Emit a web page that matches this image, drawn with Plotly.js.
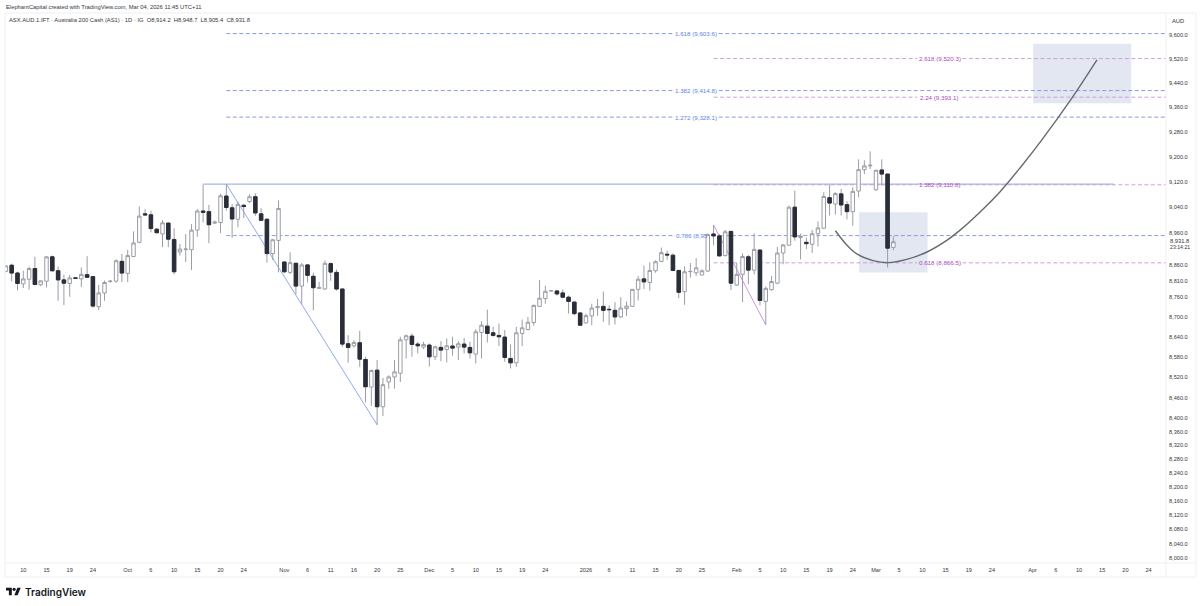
<!DOCTYPE html>
<html><head><meta charset="utf-8">
<script src="https://cdn.plot.ly/plotly-3.0.1.min.js"></script>
<style>html,body{margin:0;padding:0;background:#fff}#c{width:1200px;height:606px}</style>
</head><body><div id="c"></div>
<script>
const opens=[8840,8859,8835,8802,8816,8849,8799,8810,8885,8842,
8814,8803,8820,8817,8830,8824,8732,8774,8809,8810,
8871,8834,8886,8930,9019,9016,8971,8956,8990,8939,
8900,8908,8907,8968,9028,9026,8990,8992,9075,9038,
9002,9046,9058,9073,9019,9002,8895,8936,8869,8837,
8865,8795,8860,8825,8788,8786,8864,8837,8786,8620,
8614,8623,8573,8491,8541,8433,8506,8521,8532,8632,
8643,8619,8610,8616,8581,8609,8603,8613,8610,8619,
8609,8589,8654,8673,8653,8645,8640,8576,8563,8651,
8663,8684,8733,8757,8780,8780,8774,8761,8746,8713,
8683,8704,8729,8733,8724,8721,8701,8726,8733,8785,
8817,8806,8842,8871,8893,8890,8843,8778,8839,8836,
8829,8841,8956,8950,8889,8964,8798,8831,8885,8844,
8906,8748,8784,8804,8897,8921,9040,8945,8930,8924,
8957,8974,9070,9050,9082,9048,9026,9091,9159,9171,
9095,9158,9145,8914.2];
const highs=[8859,8864,8839,8842,8855,8885,8812,8887,8889,8855,
8830,8829,8822,8852,8887,8824,8799,8812,8814,8877,
8894,8907,8964,9042,9034,9029,8973,8999,8992,8974,
8925,8956,8987,9034,9111,9047,8998,9082,9113,9050,
9058,9050,9081,9084,9037,9006,8941,9061,8872,8899,
8867,8866,8863,8836,8808,8874,8868,8846,8786,8646,
8631,8659,8581,8543,8571,8518,8526,8571,8641,8648,
8651,8626,8626,8621,8614,8628,8636,8641,8628,8638,
8626,8664,8688,8723,8671,8681,8661,8618,8671,8693,
8701,8738,8814,8796,8783,8783,8784,8766,8748,8716,
8711,8741,8756,8778,8736,8746,8761,8748,8786,8826,
8858,8868,8874,8914,8904,8896,8843,8856,8866,8881,
8846,8958,8984,8956,8969,8966,8866,8896,8891,8958,
8908,8794,8826,8916,8925,9045,9092,8957,8944,8969,
8995,9087,9111,9087,9098,9059,9103,9192,9189,9218,
9159,9192,9145,8948.7];
const lows=[8837,8809,8782,8789,8784,8797,8795,8791,8840,8750,
8737,8762,8817,8792,8820,8729,8722,8750,8805,8805,
8807,8807,8884,8927,9014,8961,8958,8915,8915,8831,
8889,8869,8844,8947,8992,8927,8987,8959,9029,8944,
8977,9006,9053,9013,8997,8867,8875,8837,8835,8832,
8770,8741,8806,8721,8786,8784,8811,8781,8611,8563,
8608,8551,8446,8436,8380,8406,8486,8486,8506,8576,
8581,8591,8604,8552,8571,8568,8564,8584,8571,8591,
8576,8561,8576,8624,8641,8613,8566,8546,8551,8613,
8660,8674,8731,8741,8778,8766,8758,8711,8706,8674,
8681,8676,8704,8686,8676,8678,8698,8704,8731,8751,
8786,8781,8836,8868,8876,8841,8758,8738,8821,8826,
8828,8839,8921,8886,8886,8783,8796,8746,8801,8831,
8736,8677,8781,8801,8862,8920,8935,8877,8909,8897,
8917,8972,9014,9017,9014,9002,8982,9071,9145,9161,
9092,9108,8852,8905.4];
const closes=[8857,8835,8803,8817,8849,8800,8811,8885,8842,8814,
8804,8820,8819,8831,8822,8734,8774,8806,8810,8873,
8835,8889,8928,9012,9016,8973,8960,8991,8940,8839,
8909,8909,8968,9028,9024,8985,8993,9076,9039,9003,
9049,9042,9073,9022,8999,8895,8938,9036,8839,8867,
8795,8860,8828,8790,8790,8865,8838,8786,8619,8609,
8624,8574,8492,8540,8433,8498,8521,8536,8632,8644,
8618,8614,8618,8581,8611,8601,8614,8607,8620,8610,
8593,8656,8676,8651,8645,8641,8579,8563,8653,8668,
8685,8736,8758,8779,8781,8771,8761,8748,8711,8676,
8705,8728,8732,8721,8723,8701,8728,8734,8785,8816,
8808,8843,8870,8898,8891,8843,8776,8839,8840,8851,
8842,8954,8950,8888,8963,8804,8831,8886,8844,8908,
8751,8788,8809,8897,8922,9040,8947,8949,8926,8957,
8975,9074,9053,9083,9047,9026,9090,9159,9171,9173,
9157,9145,8912,8931.8];

const xTickBars=[3,7,11,15,21,25,29,33,37,41,48,52,56,60,64,68,73,77,81,85,89,93,100,104,108,112,116,120,126,130,134,138,142,146,150,154,158,162,166,170,177,181,185,189,193,197];
const xTickLabels=['10','15','19','24','Oct','6','10','15','20','24','Nov','6','11','16','20','25','Dec','5','10','15','19','24','2026','6','11','15','20','25','Feb','5','10','15','19','24','Mar','5','10','15','19','24','Apr','6','10','15','20','24'];
const yTicks=[9600,9520,9440,9360,9280,9200,9120,9040,8960,8860,8810,8760,8700,8640,8580,8520,8460,8400,8360,8320,8280,8240,8200,8160,8120,8080,8040,8000];

const fibBlueLevels=[9603.6,9414.8,9328.1,8951];
const fibBlueLabels=['1.618 (9,603.6)','1.382 (9,414.8)','1.272 (9,328.1)','0.786 (8,95'];
const fibPurpleLevels=[9520.3,9393.1,9110.8,8866.5];
const fibPurpleLabels=['2.618 (9,520.3)','2.24 (9,393.1)','1.382 (9,110.8)','0.618 (8,866.5)'];

const curveBars=[143,145,146.7,149.5,152.1,155.3,158.8,162.2,164.5,168,171.4,174.9,178.5,183.8,188.1];
const curvePrices=[8966,8921,8894,8873.5,8867,8877,8900,8936,8968,9026,9089,9166,9252,9391,9516];

const bars=opens.map((_,i)=>i);
const isDown=opens.map((o,i)=>closes[i]<o);
const GRAY='#9a9da5',DARK='#2a2e39',BLUE='#8a9bdc',PURPLE='#cba2da',BOX='#e2e7f1',FRAME='#eeeff1';

const px=x=>(x-5)/1161, py=y=>(563-y)/550;

const traces=[
 {type:'candlestick',x:bars,open:opens,high:highs,low:lows,close:closes,whiskerwidth:0,hoverinfo:'skip',showlegend:false,
  increasing:{line:{color:GRAY,width:1},fillcolor:'#ffffff'},decreasing:{line:{color:GRAY,width:1},fillcolor:DARK}},
 {type:'candlestick',x:bars,
  open:opens.map((v,i)=>isDown[i]?v:null),close:closes.map((v,i)=>isDown[i]?v:null),
  high:opens.map((v,i)=>isDown[i]?v:null),low:closes.map((v,i)=>isDown[i]?v:null),
  whiskerwidth:0,hoverinfo:'skip',showlegend:false,
  increasing:{line:{color:DARK,width:1},fillcolor:DARK},decreasing:{line:{color:DARK,width:1},fillcolor:DARK}},
 {type:'scatter',mode:'lines',x:curveBars,y:curvePrices,hoverinfo:'skip',showlegend:false,
  line:{color:'#666970',width:1.4,shape:'spline',smoothing:1}}
];

const BLUE_START=38,PURPLE_START=122,END=200,GAP=3.9;
const blueMid=(BLUE_START+END)/2,purpleMid=(PURPLE_START+END)/2;
function dashed(x0,x1,lvl,col){return {type:'line',layer:'below',xref:'x',yref:'y',x0,x1,y0:lvl,y1:lvl,line:{color:col,width:1,dash:'4px,2.5px'}};}
const shapes=[
 {type:'rect',layer:'below',xref:'x',yref:'y',x0:147.1,x1:158.9,y0:8836.5,y1:9024,fillcolor:BOX,line:{width:0}},
 {type:'rect',layer:'below',xref:'x',yref:'y',x0:177.1,x1:194,y0:9373,y1:9570,fillcolor:BOX,line:{width:0}},
 {type:'line',layer:'below',xref:'x',yref:'y',x0:34,x1:191,y0:9113,y1:9113,line:{color:'#93a0e4',width:1}},
 {type:'line',layer:'below',xref:'x',yref:'y',x0:38,x1:64,y0:9113,y1:8380,line:{color:'#8ea9f2',width:1}},
 {type:'line',layer:'below',xref:'x',yref:'y',x0:122,x1:131,y0:8984,y1:8677,line:{color:'#cf93e0',width:1}}
];
fibBlueLevels.forEach(l=>{
 shapes.push(dashed(BLUE_START,blueMid-GAP,l,BLUE));
 shapes.push(dashed(blueMid+GAP,END,l,BLUE));
});
fibPurpleLevels.forEach(l=>{
 shapes.push(dashed(PURPLE_START,purpleMid-GAP,l,PURPLE));
 shapes.push(dashed(purpleMid+GAP,END,l,PURPLE));
});
function frame(x0,y0,x1,y1){return {type:'line',xref:'paper',yref:'paper',x0:px(x0),x1:px(x1),y0:py(y0),y1:py(y1),line:{color:FRAME,width:1}};}
shapes.push(frame(5,13,1196,13),frame(5,13,5,577),frame(5,563,1196,563),frame(5,577,1196,577),frame(1166,13,1166,577),frame(1196,13,1196,577));
// logo
shapes.push({type:'path',xref:'paper',yref:'paper',line:{width:0},fillcolor:'#131722',
 path:`M${px(6)},${py(587.7)} L${px(11.8)},${py(587.7)} L${px(11.8)},${py(595.2)} L${px(8.9)},${py(595.2)} L${px(8.9)},${py(590.6)} L${px(6)},${py(590.6)} Z`});
shapes.push({type:'path',xref:'paper',yref:'paper',line:{width:0},fillcolor:'#131722',
 path:`M${px(17.4)},${py(587.7)} L${px(20.7)},${py(587.7)} L${px(17.6)},${py(595.2)} L${px(14.3)},${py(595.2)} Z`});
shapes.push({type:'circle',xref:'paper',yref:'paper',x0:px(12.5),x1:px(15.7),y0:py(587.7),y1:py(590.9),fillcolor:'#131722',line:{width:0}});

const FONT='"Liberation Sans", Arial, sans-serif';
function txt(x,y,text,opt){return Object.assign({xref:'paper',yref:'paper',x:px(x),y:py(y),text,showarrow:false,xanchor:'left',yanchor:'middle',
  font:{family:FONT,size:5.8,color:'#33363e'}},opt||{});}
const annotations=[
 txt(4,6.7,'ElephantCapital created with TradingView.com, Mar 04, 2026 11:45 UTC+11'),
 txt(7,20,'ASX.AUD.1.IFT · Australia 200 Cash (AS1) · 1D · IG &nbsp;O8,914.2 &nbsp;H8,948.7 &nbsp;L8,905.4 &nbsp;C8,931.8'),
 txt(1170,21,'AUD'),
 txt(1168,241,'8,931.8'),
 txt(1168,247,'23:14:21',{font:{family:FONT,size:5.2,color:'#33363e'}}),
 txt(23,591.5,'TradingView',{font:{family:'Inter, sans-serif',size:10,color:'#131722',weight:600}})
];
fibBlueLevels.forEach((l,k)=>annotations.push({xref:'x',yref:'y',x:k===3?blueMid-3.9:blueMid,y:Math.log10(l),text:fibBlueLabels[k],showarrow:false,
  xanchor:k===3?'left':'center',yanchor:'middle',font:{family:FONT,size:6.2,color:'#5a7ff0'}}));
fibPurpleLevels.forEach((l,k)=>annotations.push({xref:'x',yref:'y',x:purpleMid,y:Math.log10(l),text:fibPurpleLabels[k],showarrow:false,
  xanchor:'center',yanchor:'middle',font:{family:FONT,size:6.2,color:'#ab47bc'}}));

const layout={
 width:1200,height:606,margin:{l:5,r:34,t:13,b:43,pad:0},paper_bgcolor:'#fff',plot_bgcolor:'#fff',showlegend:false,dragmode:false,
 boxgap:0.15,
 xaxis:{type:'linear',range:[-0.155,200],tickmode:'array',tickvals:xTickBars,ticktext:xTickLabels,showgrid:false,zeroline:false,showline:false,ticks:'',
  rangeslider:{visible:false},tickfont:{family:FONT,size:5.6,color:'#33363e'},tickangle:0,ticklabelstandoff:2},
 yaxis:{type:'log',side:'right',range:[Math.log10(7986.2),Math.log10(9672.7)],tickmode:'array',tickvals:yTicks,
  ticktext:yTicks.map(v=>v.toLocaleString('en-US',{minimumFractionDigits:1,maximumFractionDigits:1})),
  showgrid:false,zeroline:false,showline:false,ticks:'',tickfont:{family:FONT,size:5.6,color:'#33363e'},ticklabelstandoff:2},
 shapes,annotations
};
Plotly.newPlot('c',traces,layout,{staticPlot:true,displayModeBar:false});
</script></body></html>
